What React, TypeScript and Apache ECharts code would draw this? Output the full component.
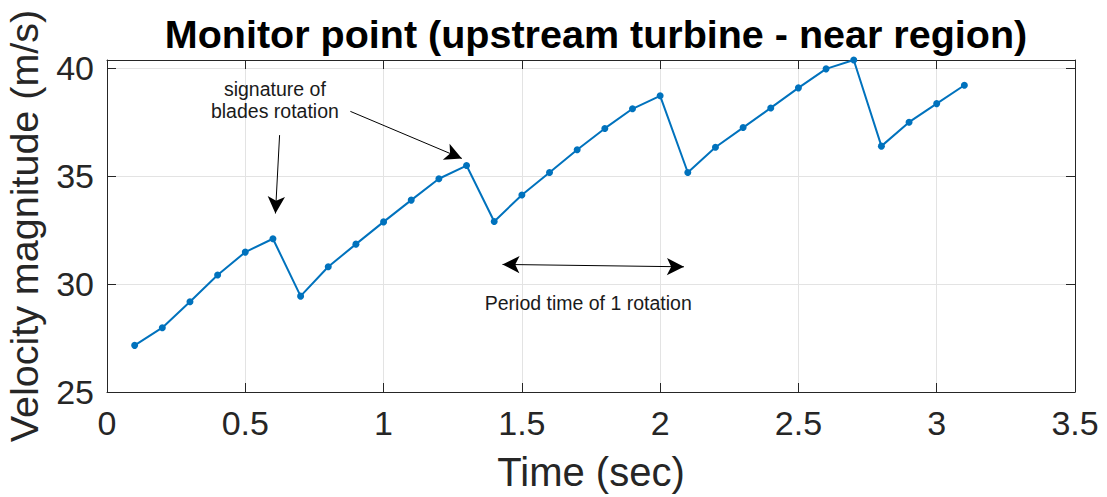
import React, { useEffect, useRef } from "react";
import * as echarts from "echarts";

const times = [0.1, 0.2, 0.3, 0.4, 0.5, 0.6, 0.7, 0.8, 0.9, 1.0, 1.1, 1.2, 1.3, 1.4, 1.5, 1.6, 1.7, 1.8, 1.9, 2.0, 2.1, 2.2, 2.3, 2.4, 2.5, 2.6, 2.7, 2.8, 2.9, 3.0, 3.1];
const velocity = [27.16, 27.98, 29.18, 30.42, 31.48, 32.1, 29.44, 30.8, 31.85, 32.88, 33.89, 34.88, 35.49, 32.9, 34.13, 35.17, 36.22, 37.21, 38.12, 38.72, 35.17, 36.34, 37.25, 38.16, 39.09, 39.97, 40.38, 36.39, 37.5, 38.36, 39.21];

const xRange = [0, 3.5];
const xStep = 0.5;
const yRange = [25, 40.38];
const yStep = 5;

const titleText = "Monitor point (upstream turbine - near region)";
const xName = "Time (sec)";
const yName = "Velocity magnitude (m/s)";

// annotation anchors in data coordinates
const arrowDown = [[0.624, 36.9], [0.609, 33.27]];
const arrowDiag = [[0.88, 38.0], [1.283, 35.82]];
const arrowPeriod = [[1.43, 30.91], [2.086, 30.8]];
const noteSignature = { text: "signature of\nblades rotation", at: [0.607, 38.54] };
const notePeriod = { text: "Period time of 1 rotation", at: [1.74, 29.12] };

const FONT = "'Liberation Sans', Arial, Helvetica, sans-serif";
const AX = "#262626";
const GRID = "#e3e3e3";

export default function App() {
  const ref = useRef<HTMLDivElement>(null);
  useEffect(() => {
    if (!ref.current) return;
    const chart = echarts.init(ref.current, null, { renderer: "svg" });
    const grid = { left: 107, right: 32, top: 60, bottom: 105, containLabel: false, outerBoundsMode: "none" };
    const sideX = (show: boolean, pos: "bottom" | "top") => ({
      type: "value" as const,
      position: pos,
      min: xRange[0],
      max: xRange[1],
      interval: xStep,
      name: show ? xName : "",
      nameLocation: "middle" as const,
      nameGap: 60,
      nameTextStyle: { fontFamily: FONT, fontSize: 40, color: AX },
      axisLine: { show: true, onZero: false, lineStyle: { color: AX, width: 1 } },
      axisTick: { show: true, inside: true, length: 9, lineStyle: { color: AX } },
      axisLabel: { show, margin: 14, fontFamily: FONT, fontSize: 34, color: AX },
      splitLine: { show: show, lineStyle: { color: GRID, width: 1 } },
    });
    const sideY = (show: boolean, pos: "left" | "right") => ({
      type: "value" as const,
      position: pos,
      min: yRange[0],
      max: yRange[1],
      interval: yStep,
      name: show ? yName : "",
      nameLocation: "middle" as const,
      nameGap: 63,
      nameTextStyle: { fontFamily: FONT, fontSize: 39.5, color: AX },
      axisLine: { show: true, onZero: false, lineStyle: { color: AX, width: 1 } },
      axisTick: { show: true, inside: true, length: 9, lineStyle: { color: AX } },
      axisLabel: {
        show,
        margin: 13,
        fontFamily: FONT,
        fontSize: 34,
        color: AX,
        showMaxLabel: false,
        formatter: (v: number) => (v % yStep === 0 ? String(v) : ""),
      },
      splitLine: { show: show, lineStyle: { color: GRID, width: 1 } },
    });
    const arrowLine = (pts: number[][], both: boolean) => [
      { coord: pts[0], symbol: both ? "arrow" : "none", symbolSize: [13, 17] },
      { coord: pts[1], symbol: "arrow", symbolSize: [13, 17] },
    ];
    chart.setOption({
      animation: false,
      backgroundColor: "#ffffff",
      title: {
        text: titleText,
        left: 591,
        textAlign: "center",
        top: 9,
        textStyle: { fontFamily: FONT, fontSize: 39.5, fontWeight: "bold", color: "#000" },
      },
      grid,
      xAxis: [sideX(true, "bottom"), sideX(false, "top")],
      yAxis: [sideY(true, "left"), sideY(false, "right")],
      series: [
        {
          type: "line",
          data: times.map((t, i) => [t, velocity[i]]),
          symbol: "circle",
          symbolSize: 7,
          showSymbol: true,
          lineStyle: { color: "#0072BD", width: 2 },
          itemStyle: { color: "#0072BD" },
          z: 3,
          markLine: {
            silent: true,
            animation: false,
            label: { show: false },
            lineStyle: { color: "#000", width: 1, type: "solid" },
            emphasis: { disabled: true },
            data: [arrowLine(arrowDown, false), arrowLine(arrowDiag, false), arrowLine(arrowPeriod, true)],
          },
        },
      ],
    });
    const p1 = chart.convertToPixel({ gridIndex: 0 }, noteSignature.at) as number[];
    const p2 = chart.convertToPixel({ gridIndex: 0 }, notePeriod.at) as number[];
    chart.setOption({
      graphic: [
        {
          type: "text",
          x: p1[0],
          y: p1[1],
          style: {
            text: noteSignature.text,
            fontFamily: FONT,
            fontSize: 19.5,
            lineHeight: 22,
            fill: "#1a1a1a",
            align: "center",
            verticalAlign: "middle",
          },
        },
        {
          type: "text",
          x: p2[0],
          y: p2[1],
          style: {
            text: notePeriod.text,
            fontFamily: FONT,
            fontSize: 19.5,
            fill: "#1a1a1a",
            align: "center",
            verticalAlign: "middle",
          },
        },
      ],
    });
    return () => chart.dispose();
  }, []);
  return (
    <div
      ref={ref}
      style={{ position: "fixed", left: 0, top: 0, width: 1107, height: 497, background: "#fff" }}
    />
  );
}
